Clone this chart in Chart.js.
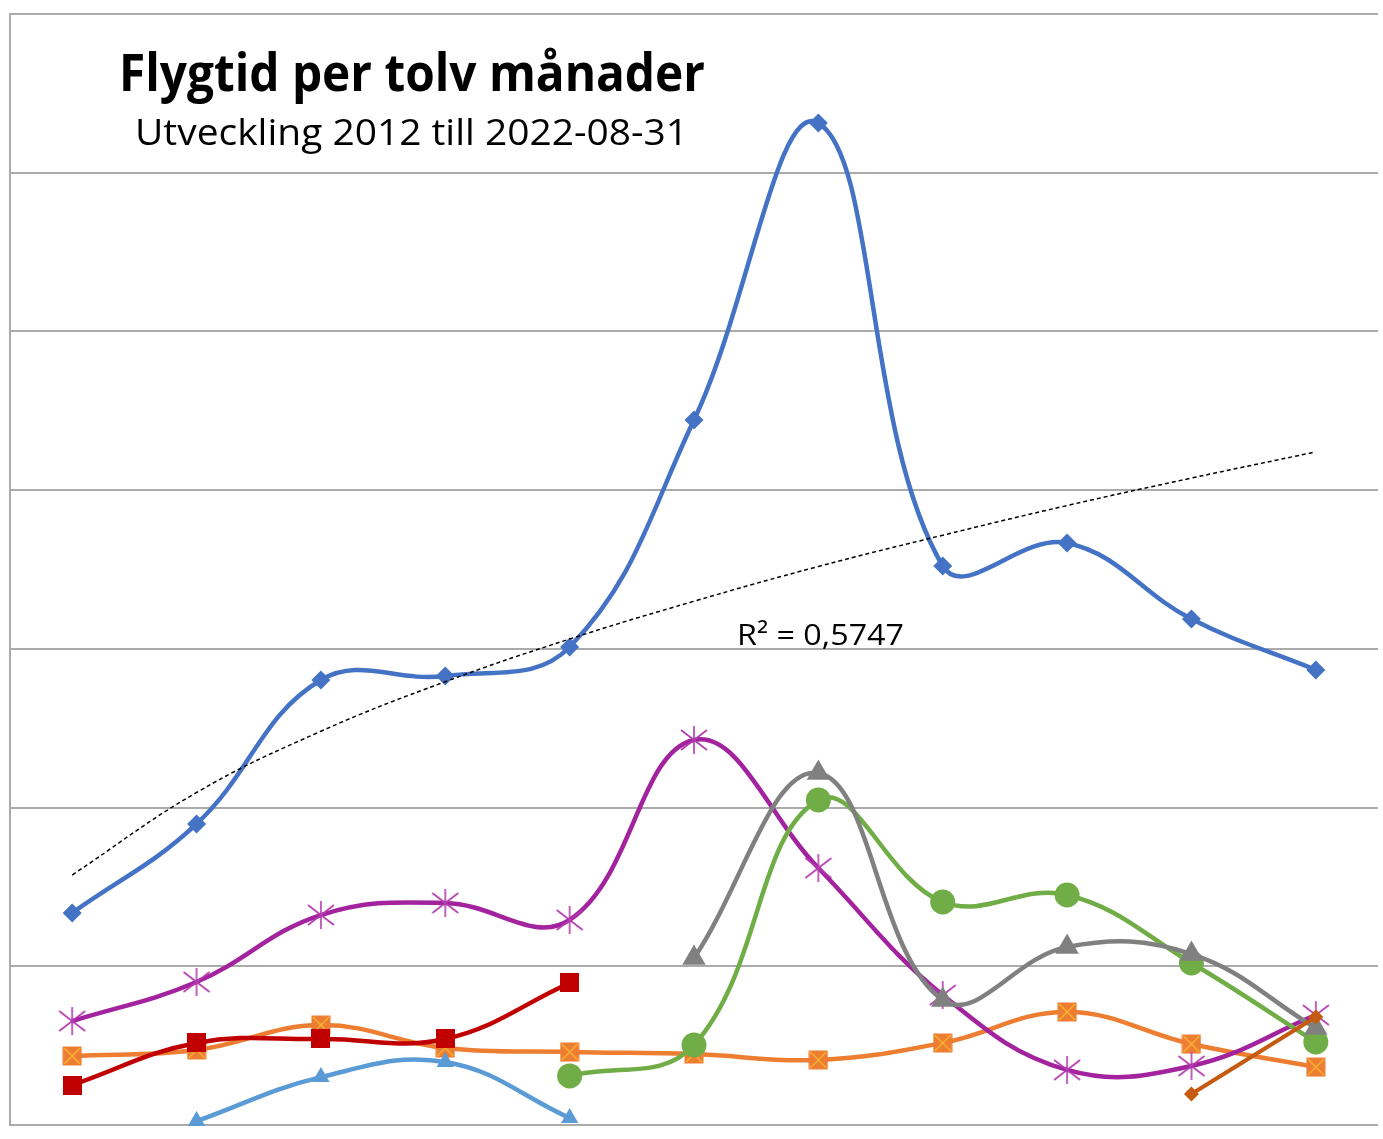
<!DOCTYPE html>
<html>
<head>
<meta charset="utf-8">
<script src="https://cdn.jsdelivr.net/npm/chart.js@4/dist/chart.umd.min.js"></script>
<style>
  html, body { margin: 0; padding: 0; background: #ffffff; }
  #wrap { width: 1383px; height: 1139px; }
</style>
</head>
<body>
<div id="wrap"><canvas id="c" width="1383" height="1139"></canvas></div>
<script>
// ---------- data ----------
const years = ['2012','2013','2014','2015','2016','2017','2018','2019','2020','2021','2022'];
const tickValues = [0, 1, 2, 3, 4, 5, 6, 7];

const seriesBlue      = [1.336, 1.897, 2.804, 2.829, 3.012, 4.442, 6.313, 3.522, 3.667, 3.188, 2.867];
const seriesPurple    = [0.655, 0.901, 1.323, 1.399, 1.292, 2.426, 1.619, 0.819, 0.347, 0.372, 0.693];
const seriesOrange    = [0.435, 0.473, 0.630, 0.485, 0.460, 0.447, 0.410, 0.517, 0.712, 0.510, 0.365];
const seriesRed       = [0.252, 0.517, 0.542, 0.542, 0.895, null, null, null, null, null, null];
const seriesLightBlue = [null, 0.025, 0.302, 0.397, 0.044, null, null, null, null, null, null];
const seriesGreen     = [null, null, null, null, 0.309, 0.504, 2.048, 1.405, 1.449, 1.021, 0.523];
const seriesGray      = [null, null, null, null, null, 1.052, 2.218, 0.788, 1.122, 1.077, 0.611];
const seriesDarkOrange= [null, null, null, null, null, null, null, null, null, 0.195, 0.680];
const trendBlue       = [1.575, 2.095, 2.481, 2.793, 3.062, 3.300, 3.519, 3.716, 3.903, 4.076, 4.241];

const titleText = 'Flygtid per tolv månader';
const subtitleText = 'Utveckling 2012 till 2022-08-31';
const r2Text = 'R² = 0,5747';

// ---------- marker images ----------
function mk(w, h, draw) {
  const c = document.createElement('canvas');
  c.width = w; c.height = h;
  draw(c.getContext('2d'), w, h);
  return c;
}
const orangeSquare = mk(20, 20, (g, w, h) => {
  g.fillStyle = '#ED7D31';
  g.fillRect(0.5, 0.5, w - 1, h - 1);
  g.strokeStyle = '#F7B733';
  g.lineWidth = 1.3;
  g.beginPath();
  g.moveTo(2, 2); g.lineTo(w - 2, h - 2);
  g.moveTo(w - 2, 2); g.lineTo(2, h - 2);
  g.stroke();
});
const redSquare = mk(19, 19, (g, w, h) => {
  g.fillStyle = '#C00000';
  g.fillRect(0, 0, w, h);
});
const purpleStar = mk(30, 30, (g, w, h) => {
  g.strokeStyle = '#B23BAE';
  g.lineWidth = 1.6;
  g.beginPath();
  g.moveTo(15, 1); g.lineTo(15, 29);
  g.moveTo(2, 5); g.lineTo(28, 25);
  g.moveTo(28, 5); g.lineTo(2, 25);
  g.stroke();
});

// ---------- chart ----------
const gridColor = '#ababab';

function drawFitted(ctx, text, font, left, baseline, targetWidth) {
  ctx.save();
  ctx.font = font;
  const w = ctx.measureText(text).width;
  const s = targetWidth / w;
  ctx.translate(left, baseline);
  ctx.scale(s, 1);
  ctx.fillStyle = '#000000';
  ctx.textBaseline = 'alphabetic';
  ctx.textAlign = 'left';
  ctx.fillText(text, 0, 0);
  ctx.restore();
}

const textPlugin = {
  id: 'texts',
  afterDraw(chart) {
    const ctx = chart.ctx;
    drawFitted(ctx, titleText, 'bold 52px "Open Sans"', 119, 91, 586);
    drawFitted(ctx, subtitleText, '37px "Open Sans"', 135, 145, 553);
    drawFitted(ctx, r2Text, '30px "Open Sans"', 737, 645, 167);
  }
};

function ds(label, data, color, style, radius, order, extra) {
  return Object.assign({
    label, data,
    borderColor: color,
    backgroundColor: color,
    borderWidth: 4.5,
    pointStyle: style,
    pointRadius: radius,
    pointBackgroundColor: color,
    pointBorderColor: color,
    pointBorderWidth: 0,
    pointHoverRadius: radius,
    tension: 0.4,
    spanGaps: false,
    clip: false,
    order
  }, extra || {});
}

new Chart(document.getElementById('c'), {
  type: 'line',
  data: {
    labels: years,
    datasets: [
      ds('Trend', trendBlue, '#000000', false, 0, -1, { borderWidth: 1.5, borderDash: [4, 3], tension: 0.4, pointRadius: 0 }),
      ds('Serie 8', seriesDarkOrange, '#C55A11', 'rectRot', 7.5, 0, { borderWidth: 4 }),
      ds('Serie 7', seriesGray, '#808080', 'triangle', 13.5, 1),
      ds('Serie 6', seriesGreen, '#70AD47', 'circle', 12.5, 2),
      ds('Serie 5', seriesLightBlue, '#5B9BD5', 'triangle', 10, 3),
      ds('Serie 4', seriesRed, '#C00000', redSquare, 9, 4),
      ds('Serie 2', seriesPurple, '#A3229E', purpleStar, 14, 5),
      ds('Serie 3', seriesOrange, '#ED7D31', orangeSquare, 10, 6),
      ds('Serie 1', seriesBlue, '#4472C4', 'rectRot', 9.5, 7, { borderWidth: 4.5 })
    ]
  },
  options: {
    responsive: false,
    animation: false,
    events: [],
    layout: { autoPadding: false, padding: { left: 10, right: 5, top: 14, bottom: 14 } },
    plugins: {
      legend: { display: false },
      tooltip: { enabled: false },
      title: { display: false }
    },
    scales: {
      x: {
        type: 'category',
        offset: true,
        display: true,
        ticks: { display: false },
        grid: { display: false, drawTicks: false },
        border: { display: false },
        afterFit(scale) { scale.height = 0; }
      },
      y: {
        min: tickValues[0],
        max: tickValues[tickValues.length - 1],
        afterBuildTicks(scale) { scale.ticks = tickValues.map(v => ({ value: v })); },
        ticks: { display: false },
        grid: { color: gridColor, lineWidth: 2, drawTicks: false },
        border: { display: true, color: gridColor, width: 2 },
        afterFit(scale) { scale.width = 0; }
      }
    }
  },
  plugins: [textPlugin]
});
</script>
</body>
</html>
